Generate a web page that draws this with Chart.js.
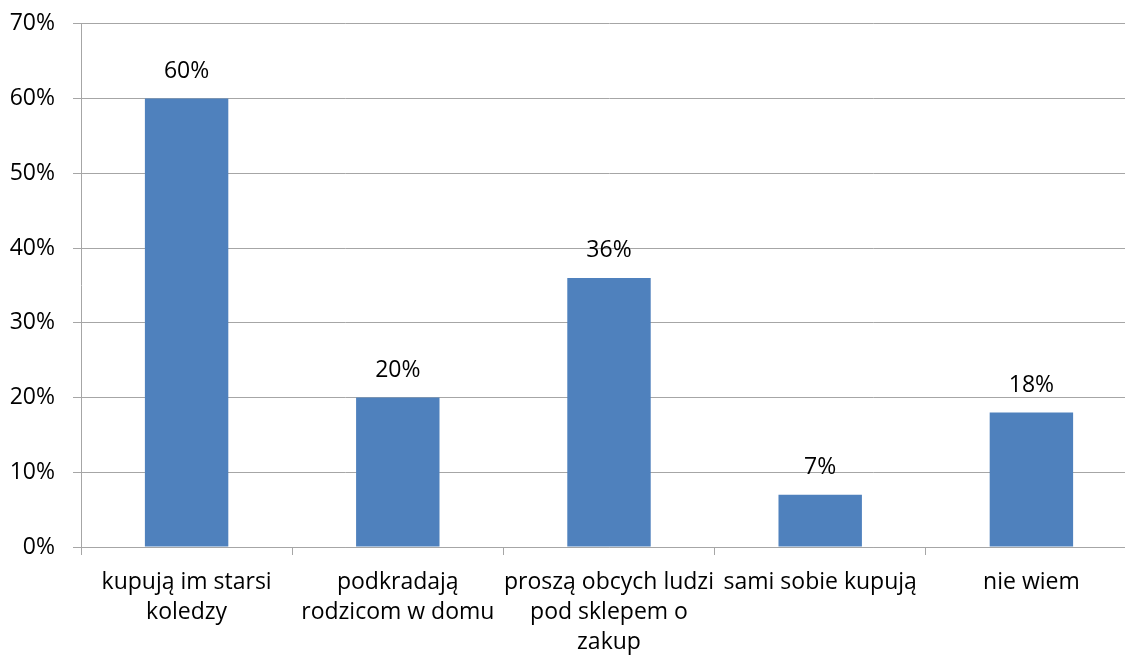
<!DOCTYPE html>
<html>
<head>
<meta charset="utf-8">
<script src="https://cdn.jsdelivr.net/npm/chart.js@4"></script>
<style>
  html, body { margin: 0; padding: 0; background: #fff; overflow: hidden; }
  #wrap { width: 1137px; height: 667px; margin-top: -8px; }
</style>
</head>
<body>
<div id="wrap"><canvas id="barChart"></canvas></div>
<script>
// values
const categories = [
  ["kupują im starsi", "koledzy"],
  ["podkradają", "rodzicom w domu"],
  ["proszą obcych ludzi", "pod sklepem o", "zakup"],
  ["sami sobie kupują"],
  ["nie wiem"]
];
const values = [60, 20, 36, 7, 18];
const yTicks = [0, 10, 20, 30, 40, 50, 60, 70];

const FONT = "'Open Sans', sans-serif";
const gridColor = "#a6a6a6";

// simple value labels above bars (no datalabels plugin available)
const valueLabels = {
  id: "valueLabels",
  afterDatasetsDraw(chart) {
    const ctx = chart.ctx;
    const meta = chart.getDatasetMeta(0);
    ctx.save();
    ctx.font = "23px " + FONT;
    ctx.fillStyle = "#000";
    ctx.textAlign = "center";
    ctx.textBaseline = "middle";
    meta.data.forEach((bar, i) => {
      ctx.fillText(values[i] + "%", bar.x, bar.y - 27);
    });
    ctx.restore();
  }
};

new Chart(document.getElementById("barChart"), {
  type: "bar",
  data: {
    labels: categories,
    datasets: [{
      data: values,
      backgroundColor: "#4f81bd",
      borderWidth: 0,
      barPercentage: 0.395,
      categoryPercentage: 1
    }]
  },
  options: {
    responsive: true,
    maintainAspectRatio: false,
    animation: false,
    layout: { padding: { top: 9, left: 0, right: 0, bottom: 0 } },
    plugins: {
      legend: { display: false },
      tooltip: { enabled: false }
    },
    scales: {
      x: {
        grid: {
          display: true,
          offset: true,
          drawOnChartArea: false,
          drawTicks: true,
          tickLength: 8,
          color: gridColor
        },
        border: { color: gridColor, width: 1 },
        ticks: {
          color: "#000",
          font: { family: FONT, size: 23, lineHeight: 1.32 },
          padding: 12,
          maxRotation: 0,
          autoSkip: false
        },
        afterFit(scale) { scale.height = 112; }
      },
      y: {
        min: 0,
        max: 70,
        afterBuildTicks(scale) {
          scale.ticks = yTicks.map(v => ({ value: v }));
        },
        grid: {
          color: gridColor,
          tickLength: 8,
          drawTicks: true
        },
        border: { color: gridColor, width: 1 },
        ticks: {
          color: "#000",
          font: { family: FONT, size: 23 },
          padding: 18,
          callback: v => v + "%"
        },
        afterFit(scale) { scale.width = 81; }
      }
    }
  },
  plugins: [valueLabels]
});
</script>
</body>
</html>
